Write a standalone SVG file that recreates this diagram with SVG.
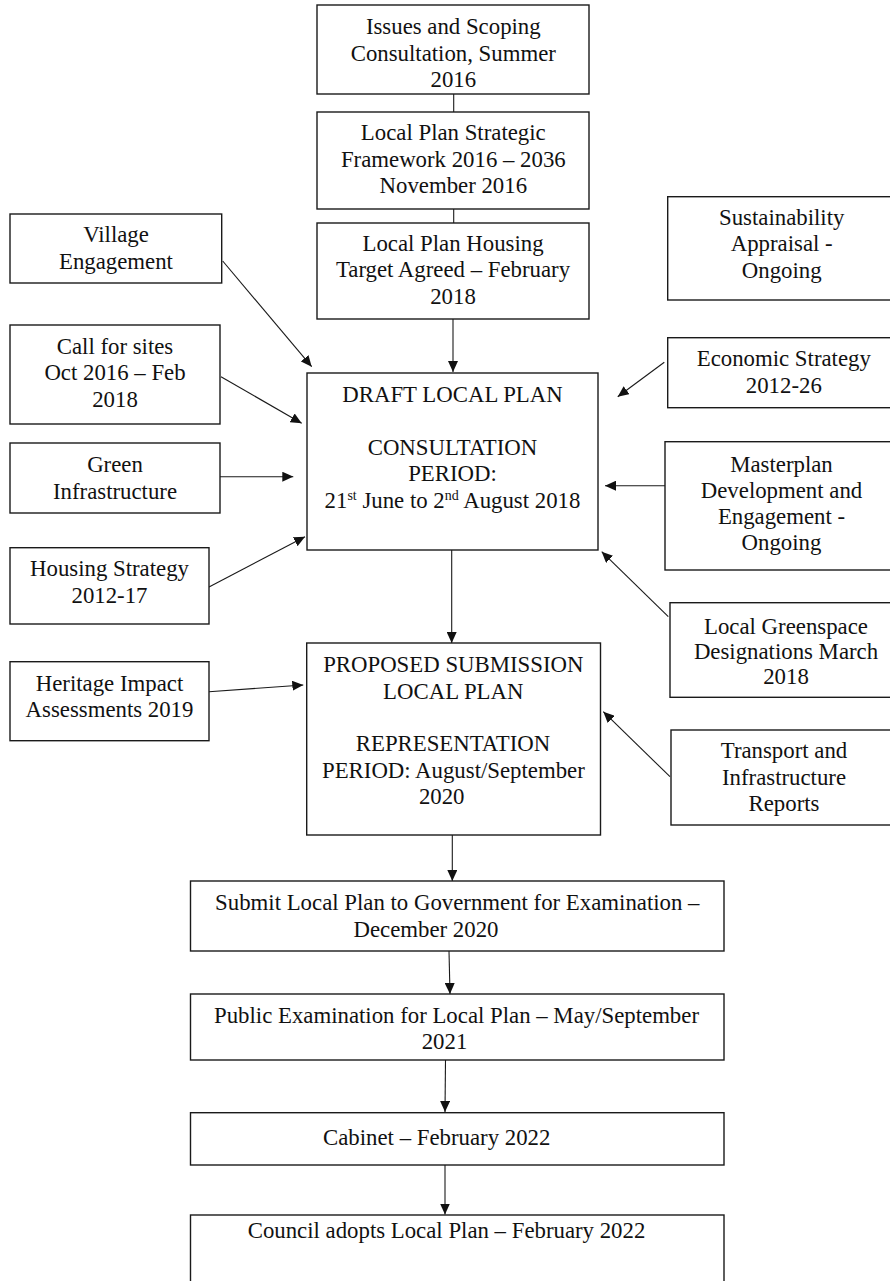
<svg xmlns="http://www.w3.org/2000/svg" width="890" height="1281" viewBox="0 0 890 1281">
<style>
.box{fill:#fff;stroke:#1a1a1a;stroke-width:1.4}
.t{font-family:"Liberation Serif","Times New Roman",serif;font-size:22.8px;fill:#111;text-anchor:middle}
.sup{font-size:14px}
.c{stroke:#1a1a1a;stroke-width:1.1;fill:none}
.a{marker-end:url(#ah)}
</style>
<defs>
<marker id="ah" markerUnits="userSpaceOnUse" markerWidth="11" markerHeight="10" refX="11" refY="5" orient="auto">
<path d="M0,0 L11,5 L0,10 z" fill="#111"/>
</marker>
</defs>
<rect width="890" height="1281" fill="#fff"/>

<g id="connectors">
<line class="c" x1="453.7" y1="94" x2="453.7" y2="112"/>
<line class="c" x1="453.7" y1="209" x2="453.7" y2="223"/>
<line class="c a" x1="453" y1="319" x2="453" y2="372"/>
<line class="c a" x1="222.7" y1="261" x2="311.7" y2="366.7"/>
<line class="c a" x1="221" y1="376.7" x2="301.7" y2="423.3"/>
<line class="c a" x1="220" y1="476.7" x2="293.3" y2="476.7"/>
<line class="c a" x1="209" y1="587" x2="305" y2="536.7"/>
<line class="c a" x1="664.3" y1="362.3" x2="617.7" y2="396.7"/>
<line class="c a" x1="665" y1="485.7" x2="605" y2="485.7"/>
<line class="c a" x1="668.3" y1="616.7" x2="601.7" y2="551.7"/>
<line class="c a" x1="451.7" y1="550" x2="451.7" y2="643"/>
<line class="c a" x1="209" y1="691.7" x2="303.3" y2="685"/>
<line class="c a" x1="670" y1="776.7" x2="603.3" y2="711.7"/>
<line class="c a" x1="452.3" y1="835" x2="452.3" y2="881"/>
<line class="c a" x1="449" y1="951" x2="450" y2="994"/>
<line class="c a" x1="445.5" y1="1060" x2="445" y2="1112"/>
<line class="c a" x1="445" y1="1165" x2="445" y2="1214.5"/>
</g>

<g id="issues">
<rect class="box" x="317" y="5" width="272" height="89"/>
<text class="t" x="453.3" y="34">Issues and Scoping</text>
<text class="t" x="453.3" y="60.5">Consultation, Summer</text>
<text class="t" x="453.3" y="87">2016</text>
</g>

<g id="strategic">
<rect class="box" x="317" y="112" width="272" height="97"/>
<text class="t" x="453.3" y="140">Local Plan Strategic</text>
<text class="t" x="453.3" y="166.5">Framework 2016 – 2036</text>
<text class="t" x="453.3" y="193">November 2016</text>
</g>

<g id="housing-target">
<rect class="box" x="317" y="223" width="272" height="96"/>
<text class="t" x="453" y="250.5">Local Plan Housing</text>
<text class="t" x="453" y="277">Target Agreed – February</text>
<text class="t" x="453" y="303.5">2018</text>
</g>

<g id="draft">
<rect class="box" x="307" y="373" width="291" height="177"/>
<text class="t" x="452.5" y="401.7">DRAFT LOCAL PLAN</text>
<text class="t" x="452.5" y="454.7">CONSULTATION</text>
<text class="t" x="452.5" y="481.2">PERIOD:</text>
<text class="t" x="452.5" y="507.7">21<tspan class="sup" dy="-8">st</tspan><tspan dy="8"> June to 2</tspan><tspan class="sup" dy="-8">nd</tspan><tspan dy="8"> August 2018</tspan></text>
</g>

<g id="proposed">
<rect class="box" x="306.7" y="643" width="293.8" height="192"/>
<text class="t" x="453.3" y="671.7">PROPOSED SUBMISSION</text>
<text class="t" x="453.3" y="698.5">LOCAL PLAN</text>
<text class="t" x="453" y="751">REPRESENTATION</text>
<text class="t" x="453.4" y="777.7">PERIOD: August/September</text>
<text class="t" x="441.7" y="804.3">2020</text>
</g>

<g id="submit">
<rect class="box" x="190.5" y="881" width="533.5" height="70"/>
<text class="t" x="457.3" y="910">Submit Local Plan to Government for Examination –</text>
<text class="t" x="426" y="936.7">December 2020</text>
</g>

<g id="public">
<rect class="box" x="190.5" y="994" width="533.5" height="66"/>
<text class="t" x="456.5" y="1022.7">Public Examination for Local Plan – May/September</text>
<text class="t" x="444.5" y="1048.5">2021</text>
</g>

<g id="cabinet">
<rect class="box" x="190.5" y="1112.7" width="533.5" height="52.3"/>
<text class="t" x="436.7" y="1145">Cabinet – February 2022</text>
</g>

<g id="council">
<rect class="box" x="190.5" y="1215" width="533.5" height="80"/>
<text class="t" x="446.5" y="1238.3">Council adopts Local Plan – February 2022</text>
</g>

<g id="village">
<rect class="box" x="10" y="214" width="211.7" height="69"/>
<text class="t" x="116" y="242">Village</text>
<text class="t" x="116" y="268.5">Engagement</text>
</g>

<g id="call-for-sites">
<rect class="box" x="10" y="325" width="210" height="99"/>
<text class="t" x="115" y="353.5">Call for sites</text>
<text class="t" x="115" y="380">Oct 2016 – Feb</text>
<text class="t" x="115" y="406.5">2018</text>
</g>

<g id="green">
<rect class="box" x="10" y="443" width="210" height="70"/>
<text class="t" x="115" y="472">Green</text>
<text class="t" x="115" y="498.5">Infrastructure</text>
</g>

<g id="housing-strategy">
<rect class="box" x="10" y="547.7" width="199" height="76.3"/>
<text class="t" x="109.5" y="576">Housing Strategy</text>
<text class="t" x="109.5" y="602.7">2012-17</text>
</g>

<g id="heritage">
<rect class="box" x="10" y="661.7" width="199" height="79"/>
<text class="t" x="109.5" y="690.7">Heritage Impact</text>
<text class="t" x="109.5" y="717">Assessments 2019</text>
</g>

<g id="sustainability">
<rect class="box" x="667.7" y="196.7" width="230" height="103.3"/>
<text class="t" x="781.7" y="224.5">Sustainability</text>
<text class="t" x="781.7" y="251">Appraisal -</text>
<text class="t" x="781.7" y="277.5">Ongoing</text>
</g>

<g id="economic">
<rect class="box" x="667.7" y="337.7" width="230" height="70"/>
<text class="t" x="783.8" y="365.7">Economic Strategy</text>
<text class="t" x="783.8" y="392.5">2012-26</text>
</g>

<g id="masterplan">
<rect class="box" x="665" y="441.7" width="233" height="128.3"/>
<text class="t" x="781.5" y="471.7">Masterplan</text>
<text class="t" x="781.5" y="497.7">Development and</text>
<text class="t" x="781.5" y="524">Engagement -</text>
<text class="t" x="781.5" y="550">Ongoing</text>
</g>

<g id="greenspace">
<rect class="box" x="670" y="602.7" width="228" height="94.6"/>
<text class="t" x="786" y="633.5">Local Greenspace</text>
<text class="t" x="786" y="659">Designations March</text>
<text class="t" x="786" y="684">2018</text>
</g>

<g id="transport">
<rect class="box" x="671" y="730" width="227" height="95"/>
<text class="t" x="784" y="758.3">Transport and</text>
<text class="t" x="784" y="785">Infrastructure</text>
<text class="t" x="784" y="810.7">Reports</text>
</g>
</svg>
